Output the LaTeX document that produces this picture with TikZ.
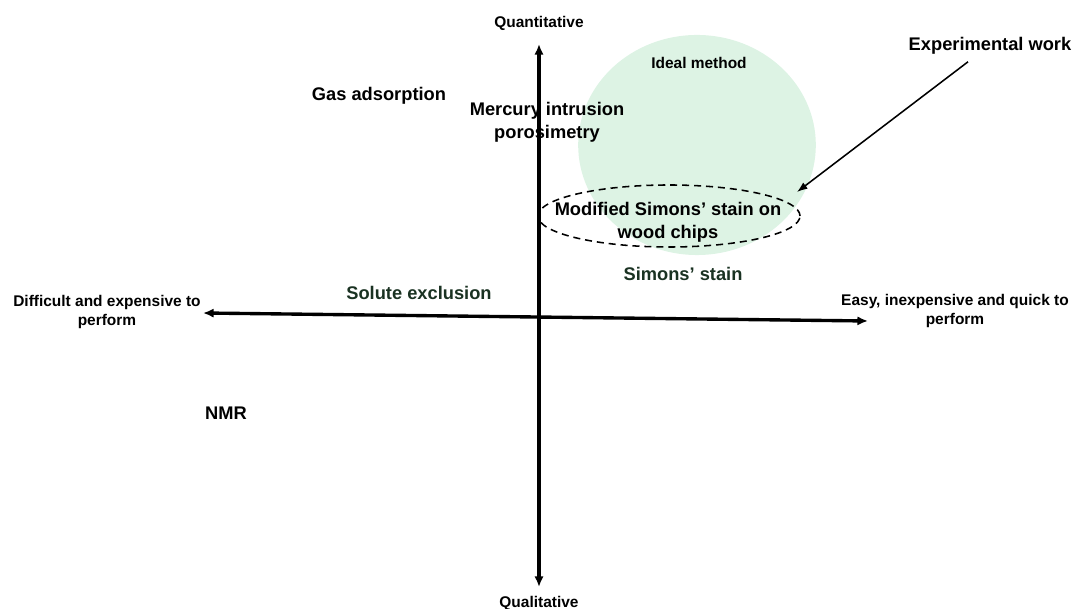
\documentclass[tikz,border=0pt]{standalone}
\usepackage{fontspec}
\setmainfont{Liberation Sans}
\usepackage{tikz}
\usetikzlibrary{arrows.meta}
\usetikzlibrary{shapes.geometric}

\definecolor{idealgreen}{HTML}{DDF3E4}
\definecolor{labelgreen}{HTML}{1A3222}

\begin{document}
\begin{tikzpicture}[x=0.025cm, y=-0.025cm,
        biglabel/.style={font=\fontsize{13}{16.5}\selectfont\bfseries, align=center, inner sep=0pt},
        smalllabel/.style={font=\fontsize{11}{13.5}\selectfont\bfseries, align=center, inner sep=0pt},
        axis/.style={line width=2.4pt, {Latex[length=7.5pt,width=6.5pt]}-{Latex[length=7.5pt,width=6.5pt]}},
        pointer/.style={line width=1.1pt, -{Latex[length=7.5pt,width=5.5pt]}}]
        \useasboundingbox (0, 0) rectangle (1074, 609);

        \fill[idealgreen] (697, 145) ellipse [x radius=2.97cm, y radius=2.75cm];

        \coordinate (top) at (539, 44);
        \coordinate (bottom) at (539, 587);
        \coordinate (left) at (203, 313);
        \coordinate (right) at (868, 321);
        \coordinate (chipsedge) at (797, 192);

        \node[smalllabel] (quant) at (539, 23){Quantitative};
        \node[smalllabel] (qual) at (539, 603){Qualitative};
        \node[smalllabel] (hard) at (107, 312){Difficult and expensive to\\perform};
        \node[smalllabel] (easy) at (955, 311){Easy, inexpensive and quick to\\perform};
        \node[smalllabel] (ideal) at (699, 63){Ideal method};

        \node[biglabel] (expt) at (990, 46){Experimental work};
        \node[biglabel] (gas) at (379, 96){Gas adsorption};
        \node[biglabel] (mip) at (547, 122){Mercury intrusion\\porosimetry};
        \node[biglabel, text=labelgreen] (simons) at (683, 274){Simons' stain};
        \node[biglabel, text=labelgreen] (solute) at (419, 293){Solute exclusion};
        \node[biglabel] (nmr) at (226, 413){NMR};

        \node[draw, ellipse, line width=1.1pt, dash pattern=on 5pt off 3.5pt,
          minimum width=6.55cm, minimum height=1.55cm] (chips) at (669, 216){};
        \node[biglabel] (modified) at (668, 222){Modified Simons' stain on\\wood chips};

        \draw[axis] (left) -- (right);
        \draw[axis] (bottom) -- (top);
        \draw[pointer] (expt.south) ++(-22, 7) -- (chipsedge);
      \end{tikzpicture}
\end{document}
